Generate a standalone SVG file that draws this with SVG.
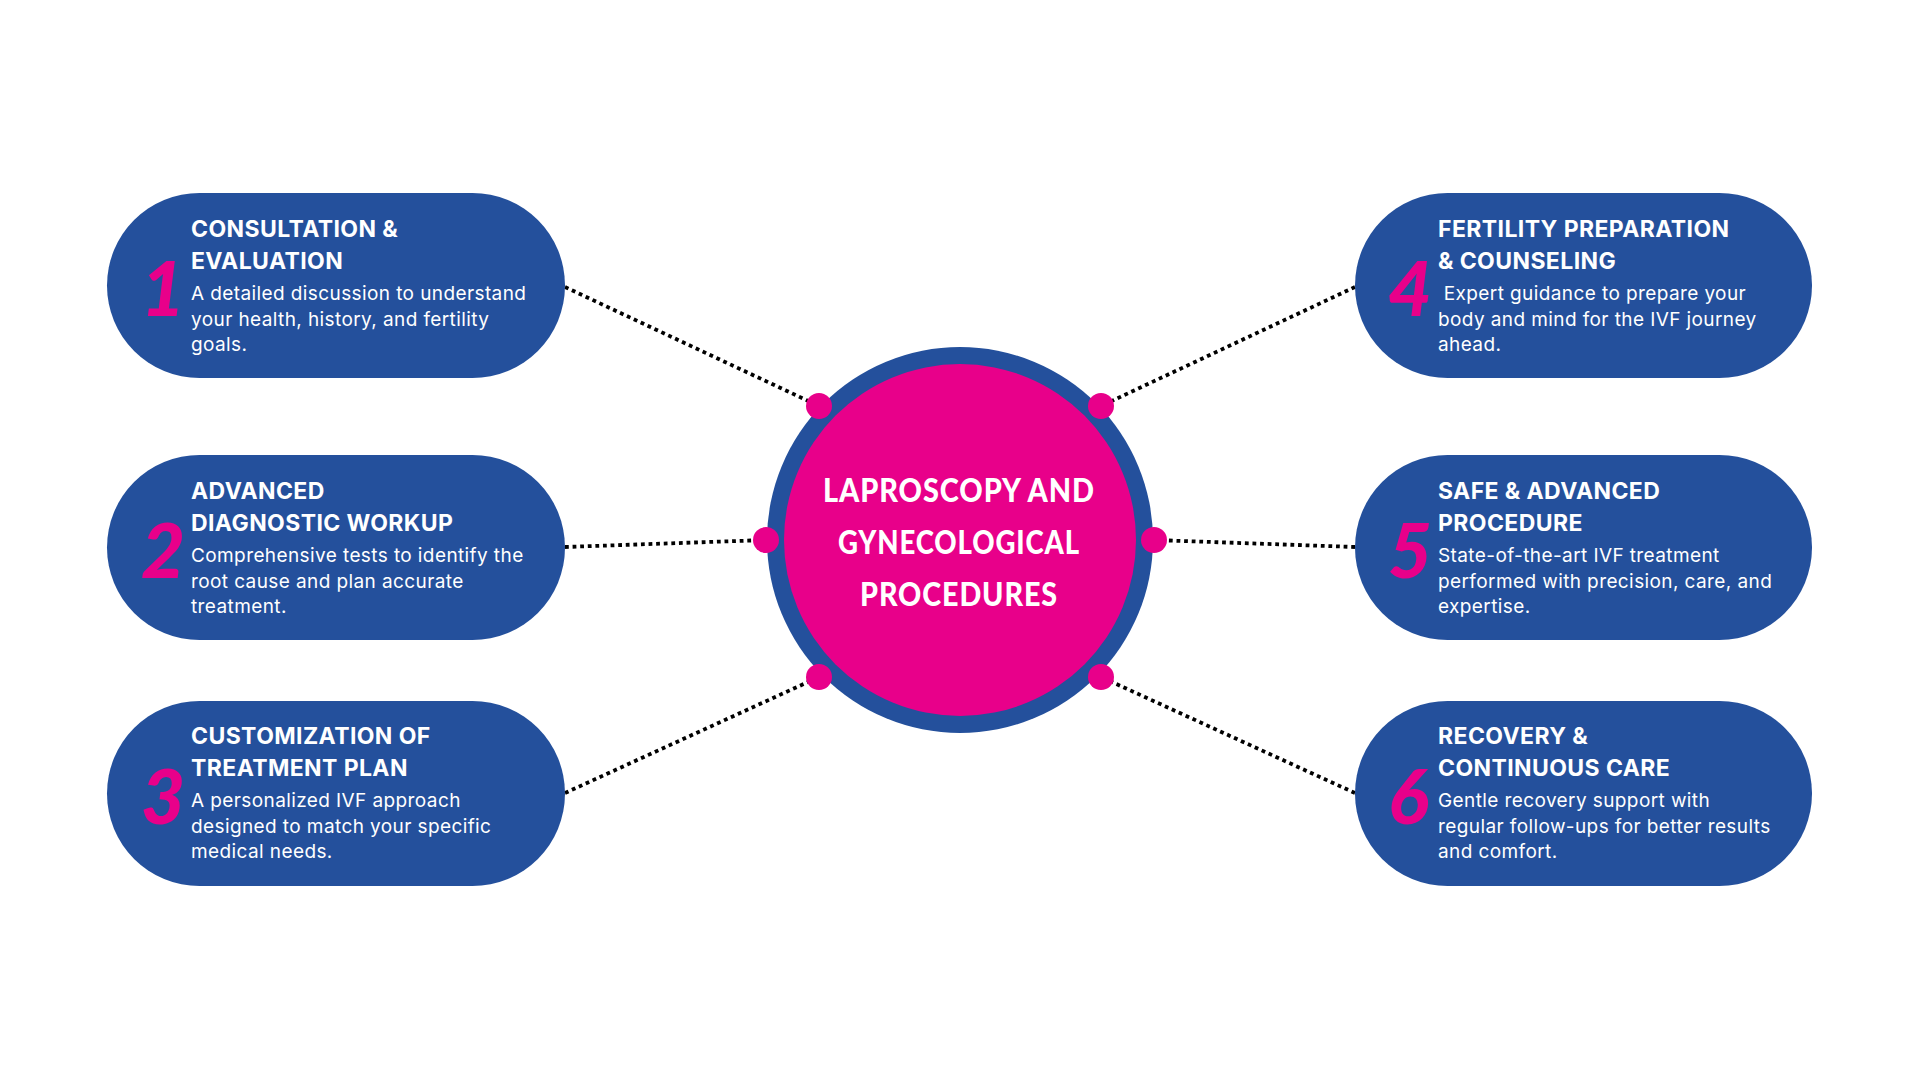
<svg xmlns="http://www.w3.org/2000/svg" width="1920" height="1080" viewBox="0 0 1920 1080">
<style>
.pill{fill:#24509C}
.num{font-family:Lato,"Liberation Sans",sans-serif;font-weight:900;font-style:italic;font-size:76px;fill:#E8008A}
.ttl{font-family:Inter,"Liberation Sans",sans-serif;font-weight:700;font-size:23px;fill:#FFFFFF;letter-spacing:0.4px}
.dsc{font-family:Inter,"Liberation Sans",sans-serif;font-weight:400;font-size:19px;fill:#FFFFFF;letter-spacing:0.4px}
.conn{fill:none;stroke:#000000;stroke-width:3.8;stroke-dasharray:3.8 3.8}
.dot{fill:#E8008A}
.ctr{font-family:Lato,"Liberation Sans",sans-serif;font-weight:900;font-size:32px;fill:#FFFFFF;text-anchor:middle;letter-spacing:1px}
</style>
<rect width="1920" height="1080" fill="#FFFFFF"/>
<g id="connectors">
<line class="conn" x1="565" y1="287" x2="819" y2="406"/>
<line class="conn" x1="565" y1="547" x2="766" y2="540"/>
<line class="conn" x1="565" y1="793" x2="819" y2="677"/>
<line class="conn" x1="1355" y1="287" x2="1101" y2="406"/>
<line class="conn" x1="1355" y1="547" x2="1154" y2="540"/>
<line class="conn" x1="1355" y1="793" x2="1101" y2="677"/>
</g>
<g id="center">
<circle cx="960" cy="540" r="193" fill="#24509C"/>
<circle cx="960" cy="540" r="176" fill="#E8008A"/>
<circle class="dot" cx="819" cy="406" r="13"/>
<circle class="dot" cx="1101" cy="406" r="13"/>
<circle class="dot" cx="766" cy="540" r="13"/>
<circle class="dot" cx="1154" cy="540" r="13"/>
<circle class="dot" cx="819" cy="677" r="13"/>
<circle class="dot" cx="1101" cy="677" r="13"/>
<text class="ctr" x="959" y="502" textLength="272" lengthAdjust="spacingAndGlyphs">LAPROSCOPY AND</text>
<text class="ctr" x="959" y="554" textLength="242" lengthAdjust="spacingAndGlyphs">GYNECOLOGICAL</text>
<text class="ctr" x="959" y="606" textLength="198" lengthAdjust="spacingAndGlyphs">PROCEDURES</text>
</g>
<g id="node1">
<rect class="pill" x="107" y="193" width="458" height="185" rx="92.5"/>
<text class="num" x="141" y="316">1</text>
<text class="ttl" x="191" y="237">CONSULTATION &amp;</text>
<text class="ttl" x="191" y="269">EVALUATION</text>
<text class="dsc" x="191" y="300">A detailed discussion to understand</text>
<text class="dsc" x="191" y="326">your health, history, and fertility</text>
<text class="dsc" x="191" y="351">goals.</text>
</g>
<g id="node2">
<rect class="pill" x="107" y="455" width="458" height="185" rx="92.5"/>
<text class="num" x="141" y="578">2</text>
<text class="ttl" x="191" y="499">ADVANCED</text>
<text class="ttl" x="191" y="531">DIAGNOSTIC WORKUP</text>
<text class="dsc" x="191" y="562">Comprehensive tests to identify the</text>
<text class="dsc" x="191" y="588">root cause and plan accurate</text>
<text class="dsc" x="191" y="613">treatment.</text>
</g>
<g id="node3">
<rect class="pill" x="107" y="701" width="458" height="185" rx="92.5"/>
<text class="num" x="141" y="824">3</text>
<text class="ttl" x="191" y="744">CUSTOMIZATION OF</text>
<text class="ttl" x="191" y="776">TREATMENT PLAN</text>
<text class="dsc" x="191" y="807">A personalized IVF approach</text>
<text class="dsc" x="191" y="833">designed to match your specific</text>
<text class="dsc" x="191" y="858">medical needs.</text>
</g>
<g id="node4">
<rect class="pill" x="1355" y="193" width="457" height="185" rx="92.5"/>
<text class="num" x="1388" y="316">4</text>
<text class="ttl" x="1438" y="237">FERTILITY PREPARATION</text>
<text class="ttl" x="1438" y="269">&amp; COUNSELING</text>
<text class="dsc" x="1438" y="300" xml:space="preserve"> Expert guidance to prepare your</text>
<text class="dsc" x="1438" y="326">body and mind for the IVF journey</text>
<text class="dsc" x="1438" y="351">ahead.</text>
</g>
<g id="node5">
<rect class="pill" x="1355" y="455" width="457" height="185" rx="92.5"/>
<text class="num" x="1388" y="578">5</text>
<text class="ttl" x="1438" y="499">SAFE &amp; ADVANCED</text>
<text class="ttl" x="1438" y="531">PROCEDURE</text>
<text class="dsc" x="1438" y="562">State-of-the-art IVF treatment</text>
<text class="dsc" x="1438" y="588">performed with precision, care, and</text>
<text class="dsc" x="1438" y="613">expertise.</text>
</g>
<g id="node6">
<rect class="pill" x="1355" y="701" width="457" height="185" rx="92.5"/>
<text class="num" x="1388" y="824">6</text>
<text class="ttl" x="1438" y="744">RECOVERY &amp;</text>
<text class="ttl" x="1438" y="776">CONTINUOUS CARE</text>
<text class="dsc" x="1438" y="807">Gentle recovery support with</text>
<text class="dsc" x="1438" y="833">regular follow-ups for better results</text>
<text class="dsc" x="1438" y="858">and comfort.</text>
</g>
</svg>
